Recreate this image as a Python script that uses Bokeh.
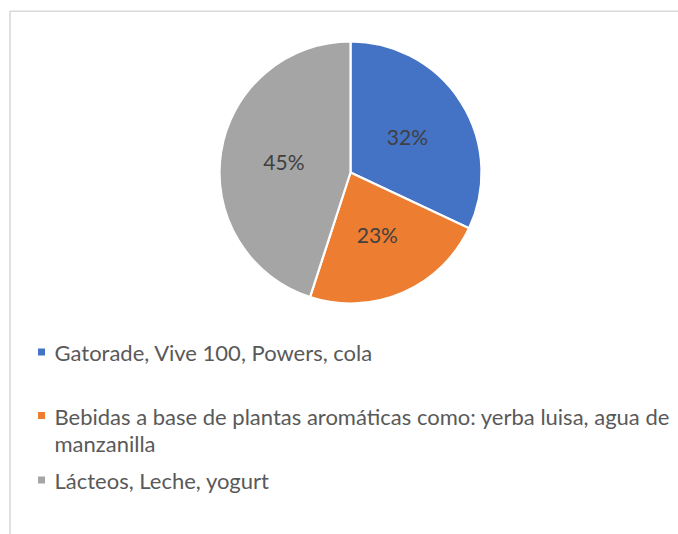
import math
import textwrap
from bokeh.plotting import figure
from bokeh.models import Range1d, ColumnDataSource
from bokeh.core.properties import value
from bokeh.embed import file_html
from bokeh.resources import INLINE

# ---- data ----
categories = [
    "Gatorade, Vive 100, Powers, cola",
    "Bebidas a base de plantas aromáticas como: yerba luisa, agua de manzanilla",
    "Lácteos, Leche, yogurt",
]
values = [32, 23, 45]
colors = ["#4472C4", "#ED7D31", "#A5A5A5"]

W, H = 678, 534
FONT = "Lato"

p = figure(width=W, height=H, output_backend="svg", toolbar_location=None,
           x_range=Range1d(0, W), y_range=Range1d(0, H),
           min_border=0, outline_line_color=None)
p.axis.visible = False
p.grid.visible = False
p.background_fill_color = "white"
p.border_fill_color = "white"

# chart frame (cropped on right/bottom like the reference)
p.quad(left=[9.5], right=[W + 50], top=[H - 10.7], bottom=[-50],
       fill_color=None, line_color="#d9d9d9", line_width=1.6)

# pie
cx, cy, r = 350, H - 172, 131
total = float(sum(values))
starts, ends, mids = [], [], []
a = math.pi / 2
for v in values:
    sweep = v / total * 2 * math.pi
    starts.append(a)
    ends.append(a - sweep)
    mids.append(a - sweep / 2)
    a -= sweep

src = ColumnDataSource(dict(start=starts, end=ends, color=colors))
p.wedge(x=cx, y=cy, radius=r, start_angle="start", end_angle="end",
        direction="clock", fill_color="color", line_color="white",
        line_width=2.2, source=src)

rl = 0.515 * r
lx = [cx + rl * math.cos(m) for m in mids]
ly = [cy + rl * math.sin(m) for m in mids]
p.text(x=lx, y=ly, text=[f"{v}%" for v in values],
       text_align="center", text_baseline="middle",
       text_font=value(FONT), text_font_size="21px", text_color="#404040")

# legend
entry_y = [H - 352, H - 415.5, H - 480]
line_h = 27.5
for cat, col, y0 in zip(categories, colors, entry_y):
    p.rect(x=[41], y=[y0 + 0.5], width=7, height=7, fill_color=col, line_color=None)
    lines = textwrap.wrap(cat, width=63)
    p.text(x=[54] * len(lines), y=[y0 - i * line_h for i in range(len(lines))],
           text=lines, text_align="left", text_baseline="middle",
           text_font=value(FONT), text_font_size="22px", text_color="#595959")

open("out.html", "w").write(file_html(p, INLINE))
